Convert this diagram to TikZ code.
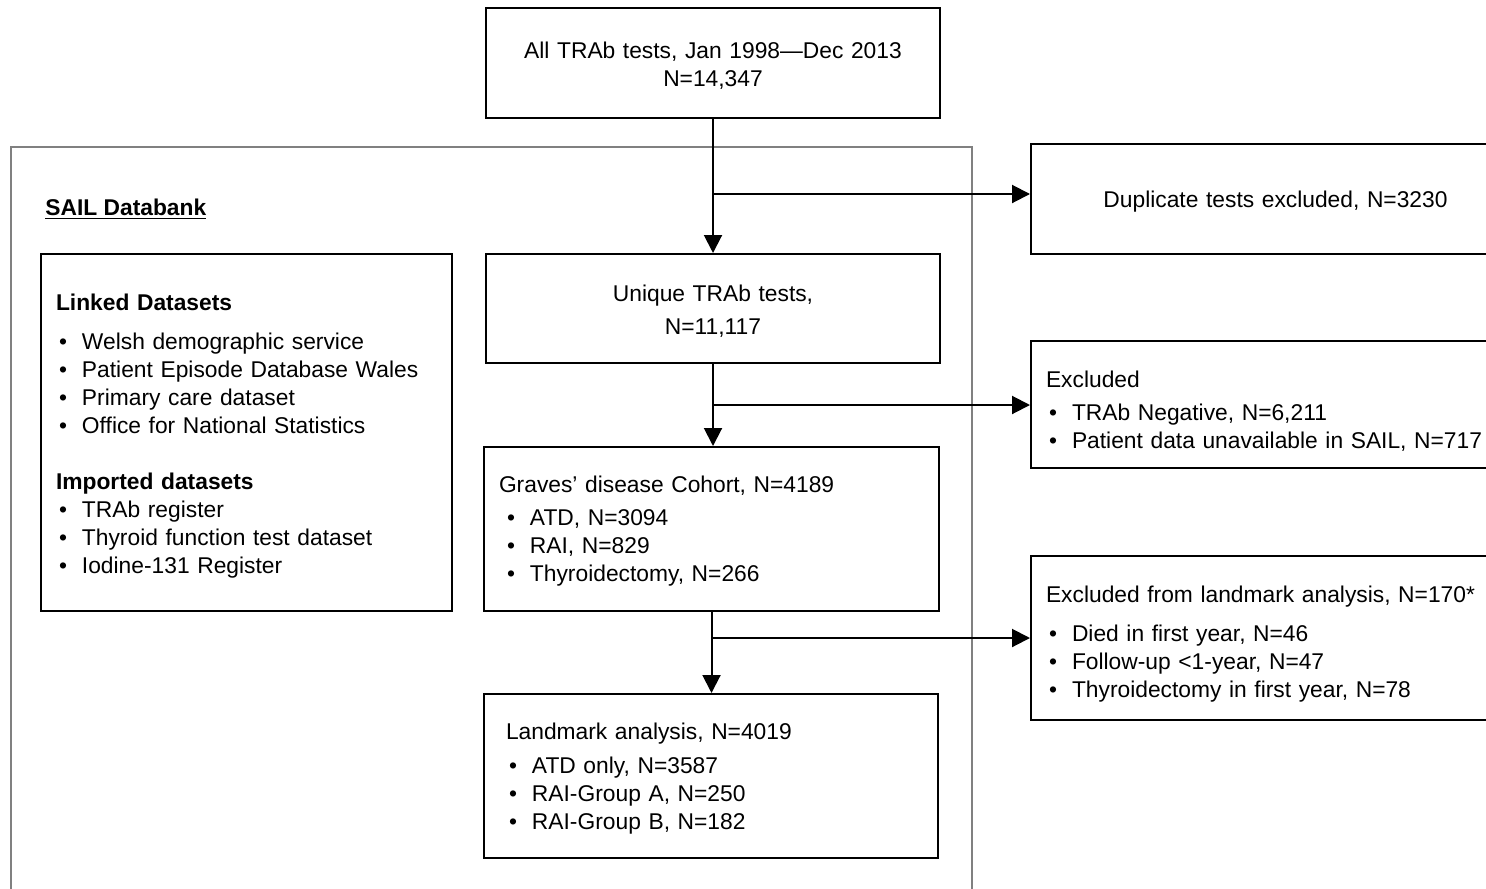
\documentclass[tikz,border=0pt]{standalone}
\usepackage{fontspec}
\setmainfont{Liberation Sans}
\usetikzlibrary{arrows.meta}
\newcommand{\itm}[1][1.5pt]{\hspace*{#1}\makebox[11.5pt][l]{\textbullet}}
\newcommand{\padtop}[1]{\rule{0pt}{\dimexpr 8.4pt+#1\relax}}
\begin{document}
\begin{tikzpicture}[x=0.5pt,y=-0.5pt,
  font=\fontsize{11.4}{14}\selectfont,
  flowbox/.style={draw,line width=1pt,inner sep=0pt},
  midbox/.style={flowbox,align=center,text width=212pt},
  leftbox/.style={flowbox,align=left,inner xsep=7.5pt},
  arr/.style={-{Triangle[length=9pt,width=9pt]},line width=1pt}]
\useasboundingbox (0,0) rectangle (1486,888);
\node[draw=black!50,line width=0.75pt,minimum width=480.5pt,minimum height=380pt,anchor=north west] (sail) at (10,146) {};
\node[anchor=base west,inner sep=0pt] (saillbl) at (45,215) {\underline{\textbf{SAIL Databank}}};
\node[midbox,minimum width=227pt,minimum height=55pt] (top) at (713,63)
  {\padtop{3pt}All TRAb tests, Jan 1998---Dec 2013\\N=14,347};
\node[midbox,minimum width=227pt,minimum height=54.5pt] (uniq) at (713,308.5)
  {\padtop{3pt}Unique TRAb tests,\\[2.5pt]N=11,117};
\node[leftbox,text width=190.5pt,minimum height=178.5pt] (linked) at (246.5,432.5)
  {\padtop{3pt}\textbf{Linked Datasets}\\[5.5pt]
   \itm Welsh demographic service\\
   \itm Patient Episode Database Wales\\
   \itm Primary care dataset\\
   \itm Office for National Statistics\\[14pt]
   \textbf{Imported datasets}\\
   \itm TRAb register\\
   \itm Thyroid function test dataset\\
   \itm Iodine-131 Register};
\node[leftbox,text width=212.5pt,minimum height=82pt] (graves) at (711.5,529)
  {\padtop{2pt}Graves' disease Cohort, N=4189\\[2.5pt]
   \itm[4pt]ATD, N=3094\\
   \itm[4pt]RAI, N=829\\
   \itm[4pt]Thyroidectomy, N=266};
\node[leftbox,inner xsep=11pt,text width=205pt,minimum height=82pt] (landmark) at (711,776)
  {\padtop{2pt}Landmark analysis, N=4019\\[3pt]
   \itm ATD only, N=3587\\
   \itm RAI-Group A, N=250\\
   \itm RAI-Group B, N=182};
\node[midbox,text width=229.5pt,minimum width=244.5pt,minimum height=55pt] (dup) at (1275.5,199)
  {\padtop{2pt}Duplicate tests excluded, N=3230};
\node[leftbox,text width=229.5pt,minimum height=63.5pt] (excl) at (1275.5,404.5)
  {\padtop{7pt}Excluded\\[2.5pt]
   \itm TRAb Negative, N=6,211\\
   \itm Patient data unavailable in SAIL, N=717};
\node[leftbox,text width=229.5pt,minimum height=82pt] (exlm) at (1275.5,638)
  {\padtop{6pt}Excluded from landmark analysis, N=170*\\[5.5pt]
   \itm Died in first year, N=46\\
   \itm Follow-up <1-year, N=47\\
   \itm Thyroidectomy in first year, N=78};
% flow down the middle, with the exclusions split off to the right
\coordinate (b1) at (713,194);
\coordinate (b2) at (713,405);
\coordinate (b3) at (711.5,638);
\draw[arr] (top.south) -- (uniq.north);
\draw[arr] (b1) -- (b1 -| dup.west);
\draw[arr] (uniq.south) -- (uniq.south |- graves.north);
\draw[arr] (b2) -- (b2 -| excl.west);
\draw[arr] (graves.south) -- (graves.south |- landmark.north);
\draw[arr] (b3) -- (b3 -| exlm.west);
\end{tikzpicture}
\end{document}
